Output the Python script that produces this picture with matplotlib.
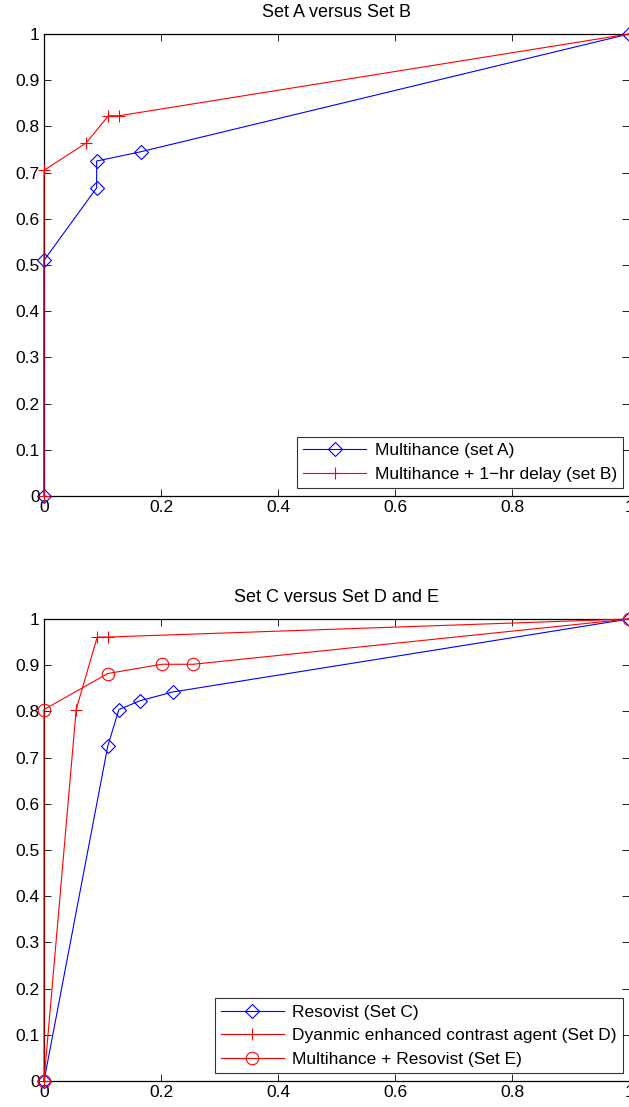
import matplotlib
matplotlib.use("Agg")
import matplotlib.pyplot as plt

plt.rcParams['font.family'] = ['Liberation Sans', 'DejaVu Sans']

# Data
setA_x = [0, 0, 0.09, 0.09, 0.165, 1]
setA_y = [0, 0.51, 0.667, 0.725, 0.745, 1]
setB_x = [0, 0, 0.072, 0.11, 0.128, 1]
setB_y = [0, 0.705, 0.764, 0.823, 0.823, 1]

setC_x = [0, 0.109, 0.128, 0.164, 0.22, 1]
setC_y = [0, 0.725, 0.804, 0.823, 0.842, 1]
setD_x = [0, 0.055, 0.091, 0.11, 1]
setD_y = [0, 0.804, 0.961, 0.961, 1]
setE_x = [0, 0, 0.109, 0.201, 0.255, 1]
setE_y = [0, 0.804, 0.882, 0.902, 0.902, 1]

xticks = [0, 0.2, 0.4, 0.6, 0.8, 1]
xtick_labels = ['0', '0.2', '0.4', '0.6', '0.8', '1']
yticks = [0, 0.1, 0.2, 0.3, 0.4, 0.5, 0.6, 0.7, 0.8, 0.9, 1]
ytick_labels = ['0', '0.1', '0.2', '0.3', '0.4', '0.5', '0.6', '0.7', '0.8', '0.9', '1']

W, H = 629, 1107
fig = plt.figure(figsize=(W / 100, H / 100), dpi=100)

def make_ax(top_px, bottom_px):
    left = 44 / W
    right = 629 / W
    ax = fig.add_axes([left, 1 - bottom_px / H, right - left, (bottom_px - top_px) / H])
    ax.set_xlim(0, 1)
    ax.set_ylim(0, 1)
    ax.set_xticks(xticks)
    ax.set_xticklabels(xtick_labels)
    ax.set_yticks(yticks)
    ax.set_yticklabels(ytick_labels)
    ax.tick_params(direction='in', top=True, right=True, length=5, width=0.6,
                   labelsize=12.5, pad=3, colors='black')
    for s in ['left', 'top', 'bottom']:
        ax.spines[s].set_linewidth(0.9)
    ax.spines['right'].set_visible(False)
    return ax

def style_legend(ax):
    leg = ax.legend(loc='lower right', bbox_to_anchor=(0.9897, 0.0173), fontsize=12.5,
                    frameon=True, fancybox=False, edgecolor='black', borderpad=0.36,
                    labelspacing=0.48, handlelength=3.6, handletextpad=0.5,
                    borderaxespad=0)
    leg.get_frame().set_linewidth(0.8)
    return leg

lw = 0.8
ax1 = make_ax(34, 496)
ax1.plot(setA_x, setA_y, color='blue', lw=lw, marker='D', ms=7, mfc='none',
         mec='blue', mew=0.8, label='Multihance (set A)', clip_on=False, zorder=3)
ax1.plot(setB_x, setB_y, color='red', lw=lw, marker='+', ms=9, mec='red',
         mew=0.8, label='Multihance + 1\u2212hr delay (set B)', clip_on=False, zorder=3)
ax1.set_title('Set A versus Set B', fontsize=13, pad=12)
style_legend(ax1)

ax2 = make_ax(619, 1081)
ax2.plot(setC_x, setC_y, color='blue', lw=lw, marker='D', ms=7, mfc='none',
         mec='blue', mew=0.8, label='Resovist (Set C)', clip_on=False, zorder=3)
ax2.plot(setD_x, setD_y, color='red', lw=lw, marker='+', ms=9, mec='red',
         mew=0.8, label='Dyanmic enhanced contrast agent (Set D)', clip_on=False, zorder=3)
ax2.plot(setE_x, setE_y, color='red', lw=lw, marker='o', ms=9, mfc='none',
         mec='red', mew=0.8, label='Multihance + Resovist (Set E)', clip_on=False, zorder=3)
ax2.set_title('Set C versus Set D and E', fontsize=13, pad=12)
style_legend(ax2)

fig.savefig('out.png', dpi=100)
